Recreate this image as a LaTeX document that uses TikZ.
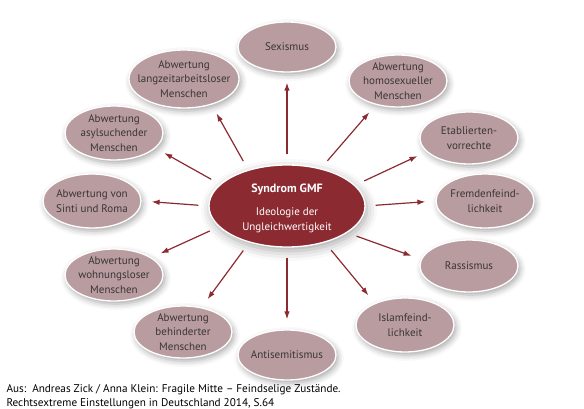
\documentclass[tikz,border=0pt]{standalone}
\usepackage{fontspec}
\setmainfont{PT Sans}
\usetikzlibrary{shapes.geometric}
\usetikzlibrary{arrows.meta}
\usetikzlibrary{shadows.blur}

\definecolor{gmfred}{HTML}{8C2A31}
\definecolor{gmfrose}{HTML}{B99CA0}
\definecolor{gmftext}{HTML}{3A3536}

\begin{document}
\begin{tikzpicture}[
        x=1pt, y=-1pt,
        every node/.style={font=\fontsize{11}{14.5}\selectfont},
        facet/.style={ellipse, fill=gmfrose, draw=white, line width=1.3pt, inner sep=0pt,
            minimum width=98pt, minimum height=52pt,
            blur shadow={shadow xshift=2pt, shadow yshift=-3pt, shadow blur radius=6pt, shadow opacity=35}},
        core/.style={ellipse, fill=gmfred, draw=white, line width=1.3pt, inner sep=0pt,
            minimum width=156pt, minimum height=82pt,
            blur shadow={shadow xshift=2pt, shadow yshift=-4pt, shadow blur radius=10pt, shadow opacity=35}},
        txt/.style={align=center, text=gmftext},
        arrow/.style={-{Latex[length=8pt,width=5.5pt]}, line width=1.2pt, draw=gmfred,
            shorten <=10pt, shorten >=10pt}
    ]

        \useasboundingbox (0,0) rectangle (584,409);

        % -------------------------------------------------
        % Zentrum
        % -------------------------------------------------
        \node[core, label={[align=center, text=white, yshift=-2pt]center:{\fontsize{12}{14.5}\selectfont\textbf{Syndrom GMF}}\\[9pt]Ideologie der\\Ungleichwertigkeit}] (gmf) at (287,206) {};

        % -------------------------------------------------
        % Elemente im Kreis
        % -------------------------------------------------
        \node[facet, minimum height=50pt, label={[txt]center:Sexismus}] (sex) at (287,47) {};
        \node[facet, minimum width=110pt, minimum height=58pt, label={[txt]center:Abwertung\\langzeitarbeitsloser\\Menschen}] (lza) at (184,79) {};
        \node[facet, minimum height=54pt, label={[txt]center:Abwertung\\asylsuchender\\Menschen}] (asyl) at (114,133) {};
        \node[facet, minimum height=54pt, label={[txt]center:Abwertung von\\Sinti und Roma}] (sinti) at (92,201) {};
        \node[facet, label={[txt]center:Abwertung\\wohnungsloser\\Menschen}] (wohn) at (114,275) {};
        \node[facet, label={[txt]center:Abwertung\\behinderter\\Menschen}] (behind) at (183,332) {};
        \node[facet, minimum height=50pt, label={[txt]center:Antisemitismus}] (anti) at (287,355) {};
        \node[facet, minimum height=54pt, label={[txt]center:Islamfeind-\\lichkeit}] (islam) at (405,325) {};
        \node[facet, label={[txt]center:Rassismus}] (rass) at (469,266) {};
        \node[facet, minimum height=54pt, label={[txt]center:Fremdenfeind-\\lichkeit}] (fremd) at (485,201) {};
        \node[facet, label={[txt]center:Etablierten-\\vorrechte}] (etab) at (469,138) {};
        \node[facet, label={[txt]center:Abwertung\\homosexueller\\Menschen}] (homo) at (398,81) {};

        % Pfeile
        \draw[arrow] (gmf.90) -- (sex.-90);
        \draw[arrow] (gmf.137) -- (lza.-43);
        \draw[arrow] (gmf.162) -- (asyl.-20);
        \draw[arrow] (gmf.180) -- (sinti.0);
        \draw[arrow] (gmf.-163) -- (wohn.25);
        \draw[arrow] (gmf.-136) -- (behind.53);
        \draw[arrow] (gmf.-90) -- (anti.90);
        \draw[arrow] (gmf.-44) -- (islam.144);
        \draw[arrow] (gmf.-24) -- (rass.172);
        \draw[arrow] (gmf.0) -- (fremd.180);
        \draw[arrow] (gmf.17) -- (etab.-162);
        \draw[arrow] (gmf.48) -- (homo.-133);

        % Quelle
        \node[anchor=west, align=left, font=\fontsize{11.2}{14}\selectfont] (quelle) at (3,397)
            {Aus:\ \ Andreas Zick / Anna Klein: Fragile Mitte – Feindselige Zustände.\\Rechtsextreme Einstellungen in Deutschland 2014, S.64};

    \end{tikzpicture}
\end{document}
